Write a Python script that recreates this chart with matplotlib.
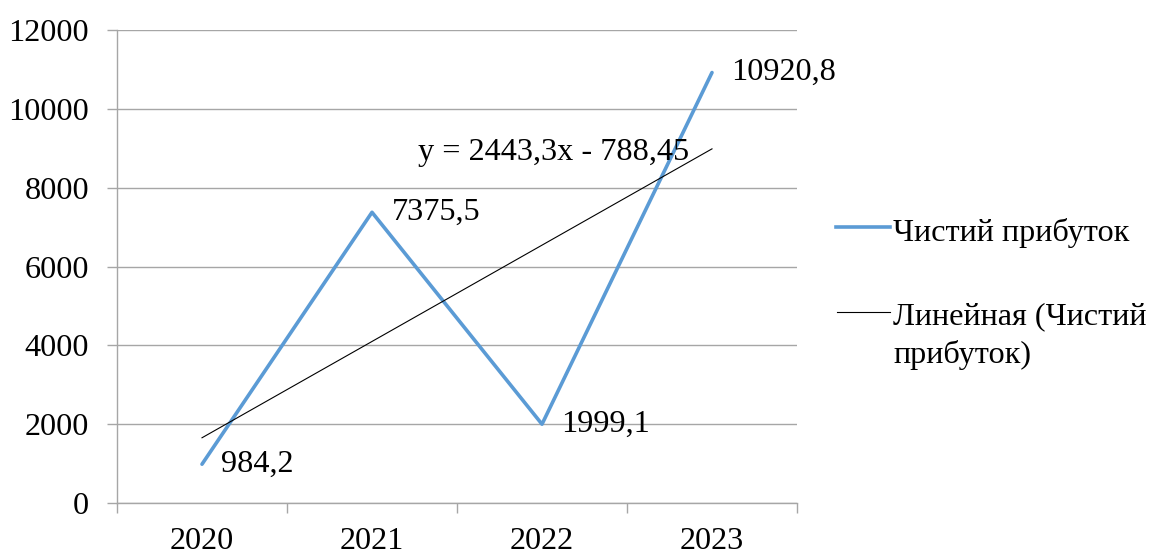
import matplotlib
matplotlib.use("Agg")
import matplotlib.pyplot as plt
from matplotlib.lines import Line2D
import numpy as np

plt.rcParams['font.family'] = ['Liberation Serif', 'DejaVu Serif']

years = ['2020', '2021', '2022', '2023']
profit = [984.2, 7375.5, 1999.1, 10920.8]
profit_labels = ['984,2', '7375,5', '1999,1', '10920,8']
trend_slope = 2443.3
trend_intercept = -788.45
trend_label = 'y = 2443,3x - 788,45'
series_name = 'Чистий прибуток'
trend_name = 'Линейная (Чистий\nприбуток)'
yticks = [0, 2000, 4000, 6000, 8000, 10000, 12000]

W, H = 1150, 551
fig = plt.figure(figsize=(W / 100, H / 100), dpi=100)
ax = fig.add_axes([117 / W, 1 - 503 / H, (797 - 117) / W, (503 - 30) / H])

x = np.arange(1, len(years) + 1)
blue = '#5B9BD5'
grey = '#A6A6A6'
fs = 23.2

ax.plot(x, profit, color=blue, lw=2.6, solid_capstyle='round', zorder=3)
trend = trend_slope * x + trend_intercept
ax.plot(x, trend, color='black', lw=0.8, zorder=4)

for xi, yi, lab in zip(x, profit, profit_labels):
    ax.annotate(lab, (xi, yi), xytext=(14, 0), textcoords='offset points',
                va='center', ha='left', fontsize=fs)

ax.text(2.27, 8900, trend_label, fontsize=fs, va='center', ha='left')

ax.set_xlim(0.5, len(years) + 0.5)
ax.set_ylim(0, 12000)
ax.set_yticks(yticks)
ax.set_yticklabels([str(v) for v in yticks])
ax.set_xticks(x)
ax.set_xticklabels(years)
ax.set_xticks(np.arange(0.5, len(years) + 1, 1), minor=True)
ax.tick_params(axis='x', which='major', length=0, pad=17, labelsize=fs)
ax.tick_params(axis='x', which='minor', length=7, color=grey, width=1)
ax.tick_params(axis='y', length=7, color=grey, width=1, pad=13, labelsize=fs)

ax.grid(axis='y', color=grey, lw=1)
ax.set_axisbelow(True)
for s in ['top', 'right']:
    ax.spines[s].set_visible(False)
for s in ['left', 'bottom']:
    ax.spines[s].set_color(grey)
    ax.spines[s].set_linewidth(1)

# legend (manual, to align the handle with the first text line)
def fx(px):
    return px / W

def fy(py):
    return 1 - py / H

fig.add_artist(Line2D([fx(836), fx(890)], [fy(227), fy(227)], color=blue, lw=2.6,
                      transform=fig.transFigure))
fig.text(fx(893), fy(229), series_name, fontsize=fs, va='center_baseline', ha='left')
fig.add_artist(Line2D([fx(837), fx(890)], [fy(312), fy(312)], color='black', lw=0.8,
                      transform=fig.transFigure))
lines = trend_name.split('\n')
fig.text(fx(893), fy(313), lines[0], fontsize=fs, va='center_baseline', ha='left')
fig.text(fx(893), fy(352), lines[1], fontsize=fs, va='center_baseline', ha='left')

fig.savefig('out.png', dpi=100)
